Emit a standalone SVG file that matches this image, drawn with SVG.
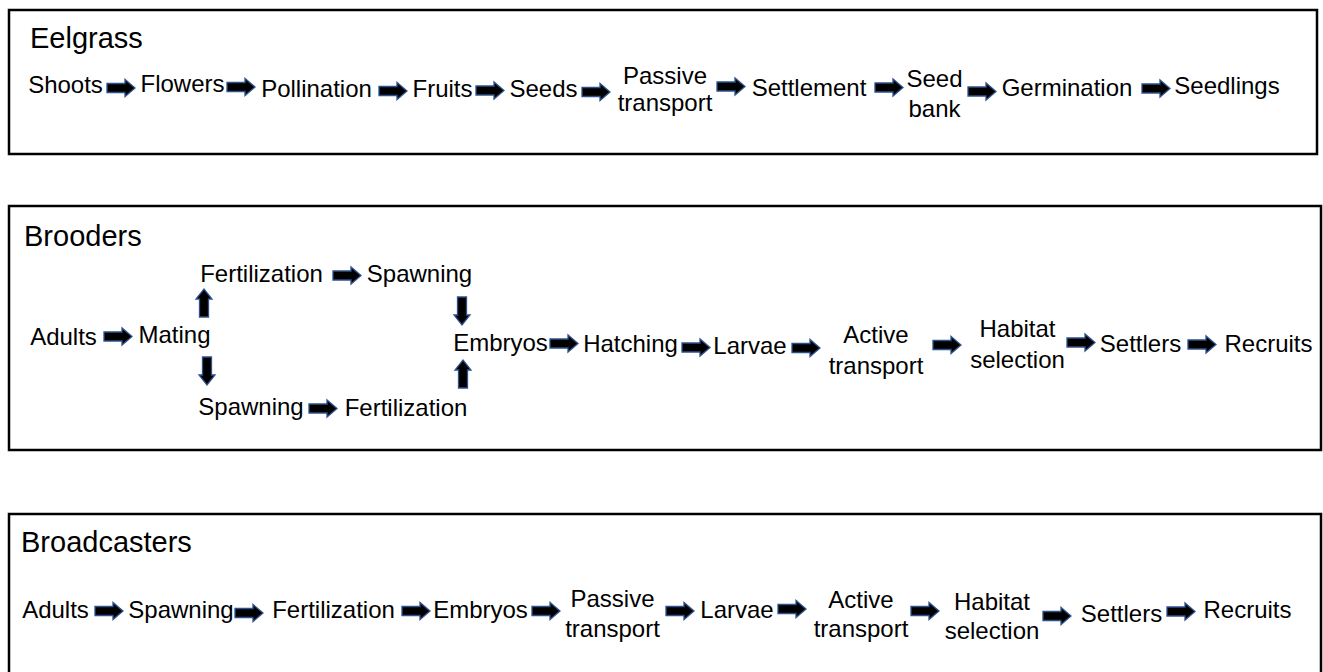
<svg xmlns="http://www.w3.org/2000/svg" xmlns:xlink="http://www.w3.org/1999/xlink" width="1323" height="672" viewBox="0 0 1323 672">
<style>
.box{fill:#fff;stroke:#000;stroke-width:2.5}
.t{font-family:"Liberation Sans",Arial,sans-serif;font-size:24px;fill:#000;text-anchor:middle}
.h{font-family:"Liberation Sans",Arial,sans-serif;font-size:29px;fill:#000}
.ar{fill:#000;stroke:#2f528f;stroke-width:1.3;stroke-linejoin:miter}
</style>
<defs>
<path id="ha" class="ar" d="M0,-4.5 H18 V-8.5 L28,0 L18,8.5 V4.5 H0 Z"/>
<path id="ua" class="ar" d="M-4.5,28 V10 H-8 L0,0 L8,10 H4.5 V28 Z"/>
<path id="da" class="ar" d="M-4.5,0 V18 H-8 L0,28 L8,18 H4.5 V0 Z"/>
</defs>
<rect width="1323" height="672" fill="#fff"/>

<g id="panel-eelgrass">
<rect class="box" x="9" y="10" width="1308" height="144"/>
<text class="h" x="30" y="48">Eelgrass</text>
</g>
<g id="panel-brooders">
<rect class="box" x="9" y="206" width="1312" height="244"/>
<text class="h" x="24" y="246">Brooders</text>
</g>
<g id="panel-broadcasters">
<rect class="box" x="9" y="514" width="1312" height="200"/>
<text class="h" x="21" y="552">Broadcasters</text>
</g>

<!-- Eelgrass nodes -->
<g id="e-shoots"><text class="t" x="65.5" y="93">Shoots</text></g>
<g id="e-flowers"><text class="t" x="182.5" y="92">Flowers</text></g>
<g id="e-pollination"><text class="t" x="316.5" y="97">Pollination</text></g>
<g id="e-fruits"><text class="t" x="442.5" y="97">Fruits</text></g>
<g id="e-seeds"><text class="t" x="543.5" y="97">Seeds</text></g>
<g id="e-passive"><text class="t" x="665" y="84">Passive</text><text class="t" x="665" y="111">transport</text></g>
<g id="e-settlement"><text class="t" x="809" y="96">Settlement</text></g>
<g id="e-seedbank"><text class="t" x="934.5" y="87">Seed</text><text class="t" x="934.5" y="117">bank</text></g>
<g id="e-germination"><text class="t" x="1067" y="96">Germination</text></g>
<g id="e-seedlings"><text class="t" x="1227" y="94">Seedlings</text></g>

<!-- Brooders nodes -->
<g id="b-adults"><text class="t" x="63.5" y="345">Adults</text></g>
<g id="b-mating"><text class="t" x="174.5" y="343">Mating</text></g>
<g id="b-fert-top"><text class="t" x="261.5" y="282">Fertilization</text></g>
<g id="b-spawn-top"><text class="t" x="419.5" y="282">Spawning</text></g>
<g id="b-spawn-bot"><text class="t" x="251" y="415">Spawning</text></g>
<g id="b-fert-bot"><text class="t" x="406" y="416">Fertilization</text></g>
<g id="b-embryos"><text class="t" x="500.5" y="351">Embryos</text></g>
<g id="b-hatching"><text class="t" x="630.5" y="352">Hatching</text></g>
<g id="b-larvae"><text class="t" x="750" y="354">Larvae</text></g>
<g id="b-active"><text class="t" x="876" y="343">Active</text><text class="t" x="876" y="374">transport</text></g>
<g id="b-habitat"><text class="t" x="1017.5" y="337">Habitat</text><text class="t" x="1017.5" y="368">selection</text></g>
<g id="b-settlers"><text class="t" x="1140.5" y="352">Settlers</text></g>
<g id="b-recruits"><text class="t" x="1268.5" y="352">Recruits</text></g>

<!-- Broadcasters nodes -->
<g id="c-adults"><text class="t" x="55.5" y="618">Adults</text></g>
<g id="c-spawning"><text class="t" x="181" y="618">Spawning</text></g>
<g id="c-fert"><text class="t" x="333.5" y="618">Fertilization</text></g>
<g id="c-embryos"><text class="t" x="480.5" y="618">Embryos</text></g>
<g id="c-passive"><text class="t" x="612.5" y="607">Passive</text><text class="t" x="612.5" y="637">transport</text></g>
<g id="c-larvae"><text class="t" x="737" y="618">Larvae</text></g>
<g id="c-active"><text class="t" x="861" y="608">Active</text><text class="t" x="861" y="637">transport</text></g>
<g id="c-habitat"><text class="t" x="992" y="610">Habitat</text><text class="t" x="992" y="639">selection</text></g>
<g id="c-settlers"><text class="t" x="1121.5" y="622">Settlers</text></g>
<g id="c-recruits"><text class="t" x="1247.5" y="618">Recruits</text></g>

<g id="connectors">
<use href="#ha" x="107" y="88"/>
<use href="#ha" x="227" y="87"/>
<use href="#ha" x="379" y="91"/>
<use href="#ha" x="476" y="90.5"/>
<use href="#ha" x="582" y="92"/>
<use href="#ha" x="717" y="86.5"/>
<use href="#ha" x="875" y="87.5"/>
<use href="#ha" x="968" y="91.5"/>
<use href="#ha" x="1142" y="88.5"/>

<use href="#ha" x="104" y="336.5"/>
<use href="#ua" x="204" y="289"/>
<use href="#da" x="207" y="357"/>
<use href="#ha" x="333" y="275.5"/>
<use href="#ha" x="309" y="408.5"/>
<use href="#da" x="462" y="297"/>
<use href="#ua" x="463" y="360"/>
<use href="#ha" x="550" y="343.5"/>
<use href="#ha" x="682" y="347.5"/>
<use href="#ha" x="792" y="348"/>
<use href="#ha" x="933" y="345"/>
<use href="#ha" x="1067" y="342.5"/>
<use href="#ha" x="1188" y="344.5"/>

<use href="#ha" x="95" y="611"/>
<use href="#ha" x="235" y="613"/>
<use href="#ha" x="402" y="611"/>
<use href="#ha" x="532" y="611"/>
<use href="#ha" x="666" y="611"/>
<use href="#ha" x="778" y="609"/>
<use href="#ha" x="911" y="611"/>
<use href="#ha" x="1043" y="616"/>
<use href="#ha" x="1167" y="611.5"/>
</g>
</svg>
